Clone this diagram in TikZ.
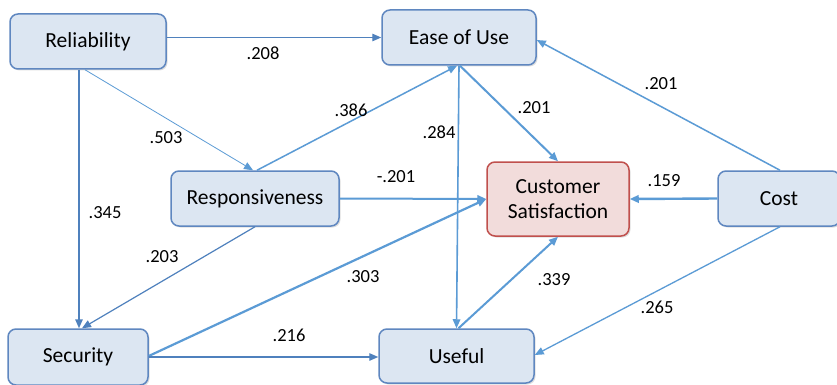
\documentclass[tikz,border=0pt]{standalone}
\usepackage{fontspec}
\setmainfont{Carlito}
\usetikzlibrary{arrows.meta,shadows}
\definecolor{boxfill}{HTML}{DCE6F2}
\definecolor{boxline}{HTML}{5F87C0}
\definecolor{csfill}{HTML}{F2DCDB}
\definecolor{csline}{HTML}{C0504D}
\definecolor{dark}{HTML}{4F81BD}
\definecolor{light}{HTML}{5B9BD5}
\tikzset{
  box/.style={draw=boxline, fill=boxfill, line width=1.5pt, rounded corners=8pt,
    inner sep=0pt, align=center, font=\fontsize{21.5}{25}\selectfont,
    drop shadow={shadow xshift=1.5pt, shadow yshift=-1.5pt, opacity=0.25}},
  csbox/.style={box, draw=csline, fill=csfill},
  conn/.style={draw=light, line width=1.4pt, -{Triangle[length=9pt,width=7.5pt]}},
  lbl/.style={font=\fontsize{18.5}{22}\selectfont, inner sep=0pt}
}
\begin{document}
\begin{tikzpicture}[x=1pt,y=-1pt]
\useasboundingbox (0,0) rectangle (837,385);
\clip (0,0) rectangle (837,385);
\fill[white] (0,0) rectangle (837,385);
% nodes
\node[box, minimum width=156pt, minimum height=55pt] (rel) at (88,41.5) {Reliability};
\node[box, minimum width=154pt, minimum height=55pt] (ease) at (459,37.5) {Ease of Use};
\node[box, minimum width=168pt, minimum height=55pt] (resp) at (255,198.5) {Responsiveness};
\node[csbox, minimum width=142pt, minimum height=74pt] (cs) at (558,199) {Customer\\Satisfaction};
\node[box, minimum width=122pt, minimum height=55pt] (cost) at (779,198.5) {Cost};
\node[box, minimum width=140pt, minimum height=56pt] (sec) at (78,357) {Security};
\node[box, minimum width=155pt, minimum height=54pt] (use) at (456.5,356) {Useful};
% connectors
\draw[conn, draw=dark, line width=1.3pt] (rel.east |- ease.west) -- (ease.west);
\draw[conn, line width=0.8pt] ([xshift=-3pt]rel.south) -- ([xshift=-2pt]resp.north);
\draw[conn, draw=dark, line width=1.5pt] ([xshift=-9pt]rel.south) -- ([xshift=1pt]sec.north);
\draw[conn, line width=1.5pt] ([xshift=2pt]resp.north) -- ([xshift=-2pt]ease.south);
\draw[conn, line width=1.6pt] (ease.south) -- (use.north);
\draw[conn, line width=2pt] ([xshift=1pt]ease.south) -- (cs.north);
\draw[conn, line width=1.5pt] ([xshift=1pt]cost.north) -- ([yshift=-2.5pt]ease.east);
\draw[conn, line width=2pt] (resp.east) -- (cs.west);
\draw[conn, line width=2.4pt] (cost.west) -- (cs.east);
\draw[conn, draw=dark, line width=1.2pt] (resp.south) -- ([xshift=4pt]sec.north);
\draw[conn, line width=2.2pt] ([yshift=1pt]sec.east) -- (cs.west);
\draw[conn, draw=dark, line width=1.3pt] (sec.east) -- (use.west |- sec.east);
\draw[conn, line width=2pt] ([xshift=2pt]use.north) -- (cs.south);
\draw[conn, line width=1.3pt] ([xshift=1pt]cost.south) -- ([yshift=1pt]use.east);
% labels
\node[lbl] (l1) at (263,53) {.208};
\node[lbl] (l2) at (166,138) {.503};
\node[lbl] (l3) at (105,213) {.345};
\node[lbl] (l4) at (351,110) {.386};
\node[lbl] (l5) at (439,132) {.284};
\node[lbl] (l6) at (534,108) {.201};
\node[lbl] (l7) at (661,84) {.201};
\node[lbl] (l8) at (396,177) {-.201};
\node[lbl] (l9) at (664,181) {.159};
\node[lbl] (l10) at (162,257) {.203};
\node[lbl] (l11) at (363,277) {.303};
\node[lbl] (l12) at (289,335) {.216};
\node[lbl] (l13) at (554,280) {.339};
\node[lbl] (l14) at (657,307) {.265};
\end{tikzpicture}
\end{document}
